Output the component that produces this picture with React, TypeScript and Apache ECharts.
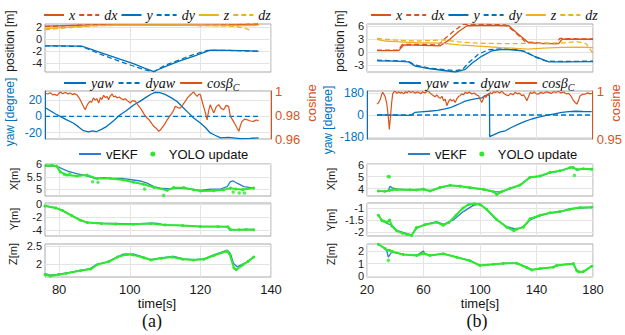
import React, { useEffect, useRef } from 'react';
import * as echarts from 'echarts';

type P = [number, number];

// ---------- panel (a) ----------
const A_X: P[] = [[76,2.15],[84,2.25],[92,2.35],[104,2.35],[112,2.3],[120,2.3],[128,2.35],[136.5,2.45]];
const A_DX: P[] = [[76,2.05],[85,2.3],[95,2.4],[110,2.35],[120,2.25],[130,2.4],[136.5,2.5]];
const A_Y: P[] = [[76,-1.13],[80,-1.15],[86.4,-1.2],[92,-2.3],[97,-3.3],[101,-4.1],[104,-4.8],[106.8,-5.42],[110,-4.6],[114,-3.7],[118,-2.9],[122.8,-1.86],[128,-1.9],[132,-1.95],[136.5,-2.03]];
const A_DY: P[] = [[76,-1.13],[86.4,-1.25],[92,-2.6],[97,-3.7],[101,-4.5],[104,-5.1],[106.8,-5.45],[110,-4.4],[114,-3.5],[118,-2.6],[122,-1.9],[128,-1.9],[136.5,-2.05]];
const A_Z: P[] = [[76,1.75],[82,1.95],[88,2.2],[95,2.3],[110,2.3],[125,2.25],[132,2.25],[136.5,2.3]];
const A_DZ: P[] = [[76,1.55],[82,1.85],[90,2.2],[100,2.3],[115,2.3],[126,2.2],[130,2.1],[132.5,1.8],[134.5,1.4]];

const A_YAW: P[] = [[76,11],[77.5,7],[79,3],[80.3,0],[82,-4],[84,-8.2],[85.5,-13],[86.9,-17.7],[88.3,-19.3],[89.5,-18],[90.5,-19],[92,-16],[93.5,-12.3],[95.5,-5],[97.3,2],[99,7],[101.1,14.2],[103,19],[104.9,24.5],[106,27.5],[107.2,29.8],[108.5,29.5],[110,27.4],[111.8,23],[113.4,18.4],[115.3,10.2],[116.5,5],[118.1,-2],[120,-8.2],[121.5,-14],[122.8,-20.5],[124,-23],[125.7,-26.6],[128,-26],[131.3,-27.5],[134,-27.2],[136.5,-26.6]];
const A_DYAW: P[] = [[76,0],[136.5,0]];
const A_COS: P[] = [[76,0.9983],[76.8,0.9975],[77.5,0.9985],[78.2,0.9968],[78.7,0.9972],[79.4,0.9962],[80.3,0.9992],[81,0.9978],[81.8,0.9988],[82.5,0.9975],[83.1,0.9983],[83.8,0.997],[84.4,0.9978],[85,0.9969],[85.6,0.9945],[86,0.9925],[86.4,0.99],[86.9,0.987],[87.4,0.9844],[87.8,0.9875],[88.3,0.99],[88.8,0.9915],[89.2,0.9905],[89.7,0.9942],[90.2,0.9925],[90.7,0.9935],[91.2,0.99],[91.7,0.9945],[92.1,0.993],[92.6,0.9964],[93.1,0.9945],[93.6,0.9955],[94,0.9928],[94.5,0.996],[95,0.9975],[95.5,0.995],[96,0.9958],[96.4,0.9942],[97,0.995],[97.6,0.9935],[98.2,0.9928],[98.8,0.9935],[99.4,0.9918],[100.1,0.99],[100.8,0.992],[101.6,0.9914],[102.3,0.9885],[103,0.9858],[103.6,0.983],[104.2,0.98],[104.9,0.9775],[105.5,0.976],[106.2,0.973],[106.8,0.9706],[107.5,0.969],[108.2,0.9664],[108.6,0.9672],[109.1,0.9692],[109.8,0.972],[110.6,0.976],[111.3,0.979],[112,0.9817],[112.5,0.9845],[112.9,0.9872],[113.6,0.9862],[114.3,0.9858],[115,0.9885],[115.7,0.9914],[116.4,0.9945],[117.2,0.9969],[117.7,0.9982],[118.1,0.9992],[118.6,0.997],[119.1,0.9956],[119.6,0.9975],[120,0.9969],[120.4,0.9925],[120.9,0.9872],[121.4,0.982],[121.9,0.976],[122.3,0.983],[122.8,0.9886],[123.3,0.985],[123.8,0.9817],[124.5,0.987],[125.2,0.9886],[125.9,0.9855],[126.6,0.9844],[127.3,0.988],[128,0.9872],[128.5,0.9789],[129.2,0.9755],[129.9,0.9719],[130.4,0.969],[130.9,0.9664],[131.3,0.971],[131.8,0.9747],[132.5,0.9765],[133.3,0.976],[134.2,0.975],[135.1,0.9747],[135.8,0.9758],[136.5,0.9753]];

const A_XE: P[] = [[76,5.93],[79.3,5.93],[80.8,5.83],[82.6,5.72],[85,5.63],[86.9,5.57],[88.8,5.5],[90.2,5.43],[92.6,5.47],[95.4,5.43],[98.2,5.43],[101.1,5.37],[103,5.33],[104.9,5.24],[106.8,5.1],[108.7,5.04],[111.5,5.01],[114.3,5.04],[117.2,5.0],[120,4.95],[122.8,5.0],[125.7,5.0],[127.6,5.1],[128.5,5.3],[129.3,5.33],[130.4,5.24],[132.3,5.1],[135.1,5.04]];
const A_XY: P[] = [[76.3,5.96],[78,5.97],[79.3,5.93],[80.3,5.7],[82.2,5.57],[85,5.53],[87.9,5.57],[90.7,5.43],[94.5,5.43],[98.2,5.37],[101.1,5.28],[103.9,5.2],[106.8,5.07],[110.6,4.95],[112.4,5.06],[115.3,5.06],[118.1,4.97],[120,4.92],[123.8,4.93],[126.6,4.97],[128.5,5.04],[130,5.0],[132,4.98],[135.1,5.04]];
const A_XO: P[] = [[81.5,5.6],[83,5.62],[89.5,5.3],[91,5.28],[104.2,5.0],[109.6,4.75],[129.3,4.88],[131,4.84],[132.5,4.84]];
const A_YE: P[] = [[76,-0.26],[79.3,-0.62],[80.3,-0.87],[83.1,-1.66],[86,-2.43],[87.9,-2.8],[91.6,-2.95],[101.1,-3.05],[106.8,-2.95],[108,-2.98],[109.6,-3.2],[115.3,-3.3],[120,-3.47],[127.6,-3.47],[128.3,-3.95],[131,-3.92],[135.1,-3.9]];
const A_YY: P[] = [[76,-0.3],[79,-0.6],[81,-1.0],[83.5,-1.75],[86,-2.5],[88,-2.85],[92,-3.0],[96,-3.05],[101,-3.1],[106,-3.0],[110,-3.2],[115,-3.3],[120,-3.45],[125,-3.45],[127.8,-3.5],[128.5,-3.9],[131,-3.95],[133,-3.9],[135.1,-3.95]];
const A_ZE: P[] = [[76,1.74],[77.4,1.7],[79.3,1.72],[82.2,1.76],[86,1.83],[88.8,1.88],[90.7,2.0],[93.5,2.06],[96.4,2.2],[98.2,2.28],[101.1,2.28],[103.9,2.2],[105.8,2.13],[108.7,2.18],[112.4,2.22],[115.3,2.15],[118.1,2.13],[121,2.15],[123.8,2.26],[127.6,2.39],[128.5,2.3],[129.4,2.02],[130.4,1.93],[133.2,2.06],[135.1,2.2]];
const A_ZY: P[] = [[76,1.72],[77.5,1.68],[80,1.72],[82,1.75],[86,1.82],[89,1.87],[91,2.0],[94,2.07],[96.5,2.2],[99,2.27],[101,2.26],[104,2.18],[106,2.12],[109,2.17],[112,2.2],[115,2.14],[118,2.12],[121,2.14],[124,2.25],[127.5,2.36],[128.3,2.28],[129.5,1.9],[130.2,1.85],[132,1.98],[133.5,2.08],[135.1,2.2]];

// ---------- panel (b) ----------
const B_X: P[] = [[27.1,0.4],[42.4,0.4],[44,1.0],[46,1.7],[60,1.6],[71.9,1.5],[77.9,2.8],[84.9,4.8],[90.8,6.1],[105,6.2],[120.3,6.1],[127,4.2],[134.4,2.2],[145,2.0],[155.7,2.0],[158.1,3.0],[170,3.0],[180,3.0]];
const B_DX: P[] = [[27.1,0.5],[42,0.5],[45,1.8],[60,1.8],[70.5,1.7],[76,3.4],[82,5.0],[88,6.4],[105,6.4],[118,6.3],[125,4.6],[132,2.4],[145,2.1],[154,2.0],[156.5,3.2],[170,3.1],[180,3.1]];
const B_Y: P[] = [[27.1,-1.94],[40,-2.0],[49.5,-2.17],[54.2,-3.16],[63.7,-3.7],[73.1,-4.1],[82.5,-4.5],[89.6,-3.9],[94.3,-2.5],[101.4,-0.85],[108.5,0.37],[115.6,0.7],[122,0.6],[129.7,0.37],[139.2,-1.0],[148.7,-2.17],[160,-2.2],[180,-2.1]];
const B_DY: P[] = [[27.1,-1.8],[49,-2.0],[54,-2.9],[63.7,-3.6],[73.1,-3.9],[82.5,-4.2],[88,-3.8],[92.5,-2.2],[99,-0.4],[106,0.6],[115.6,0.8],[125,0.7],[132,0.2],[140,-1.2],[147,-2.0],[160,-2.1],[180,-2.0]];
const B_Z: P[] = [[27.1,3.0],[33,2.6],[40,2.45],[55,2.2],[73,2.1],[85,1.7],[99,1.45],[115,1.1],[134,0.75],[145,0.95],[158,1.15],[170,1.2],[180,1.1]];
const B_DZ: P[] = [[27.1,3.2],[40,2.8],[55,2.6],[63.7,2.7],[74.3,2.85],[85,2.4],[97.9,2.1],[120,2.0],[144.6,2.08],[160,2.2],[168.7,2.45],[175,2.0],[180,-0.2]];

const B_YAW: P[] = [[27.1,0],[40,-1],[49.5,-3],[52,5],[54.2,22],[58,26],[63.7,31],[70,38],[75.4,50],[79,60],[82.5,78],[86,95],[89.6,114],[93,125],[96.7,133],[101.4,141],[104,160],[106.8,176],[107,-179],[110.9,-158],[114,-142],[118,-130],[122,-105],[127.4,-75],[132,-52],[136.8,-33],[141,-20],[146.3,-5],[152,8],[158.1,22],[163,28],[167.5,31],[173,29],[179.3,28]];
const B_DYAW: P[] = [[27.1,0],[180,0]];
const B_COS: P[] = [[27.1,0.9863],[28.3,0.988],[29.5,0.9916],[30.3,0.996],[31.1,0.9986],[32,0.9965],[33,0.9934],[34,0.987],[34.9,0.9758],[35.4,0.968],[35.8,0.96],[36.3,0.968],[36.8,0.9758],[37.5,0.988],[38.2,0.9968],[39,0.999],[40,0.9997],[41.2,0.9975],[42.4,0.999],[43.6,0.9978],[44.8,0.9986],[46,0.997],[47.3,0.9992],[48.5,0.998],[49.5,1.0],[51,0.9985],[52.5,0.9995],[54,0.9978],[55.5,0.999],[56.6,0.9986],[58,0.9972],[59.5,0.9992],[61,0.998],[62.5,0.9995],[63.7,0.9997],[65,0.9975],[66.2,0.996],[67.2,0.9951],[68.3,0.994],[69.5,0.996],[70.8,0.9934],[72,0.9925],[73.2,0.9945],[74.3,0.9899],[75.5,0.9915],[76.6,0.9847],[77.8,0.989],[79,0.9916],[80.2,0.9895],[81.3,0.991],[82.5,0.9881],[83.7,0.992],[85,0.9945],[86,0.9951],[87.2,0.997],[88.4,0.996],[89.6,0.9986],[91,0.9975],[92.5,0.999],[94.3,0.9968],[95.8,0.998],[97.5,0.996],[99.1,0.9951],[100.2,0.9915],[101.4,0.9881],[102.5,0.992],[103.4,0.9955],[104.3,0.9934],[105.5,0.9965],[106.5,0.995],[107.3,0.9986],[108.5,0.997],[109.7,0.999],[110.9,0.9986],[112.5,0.9995],[114,0.998],[115.6,0.9997],[117,0.9975],[118.6,0.996],[120.3,0.9951],[121.8,0.9975],[123.5,0.996],[125,0.9986],[126.5,0.997],[128,0.9978],[129.7,0.9951],[131,0.996],[132.3,0.993],[133.3,0.9899],[134.5,0.994],[135.7,0.9986],[137,0.9975],[138.5,0.999],[140,0.997],[141.6,0.9968],[143,0.9985],[145,0.9975],[146.8,0.999],[148.7,0.9986],[150.5,0.9975],[152.3,0.9992],[154,0.9985],[155.8,0.9997],[157.5,0.998],[159.5,0.999],[161.2,0.997],[162.9,0.9975],[164.5,0.995],[165.6,0.992],[166.4,0.9899],[167.6,0.988],[168.8,0.9863],[169.9,0.99],[171.1,0.9951],[172.8,0.9965],[174.7,0.9968],[176.5,0.998],[178,0.997],[179.4,0.9975]];

const B_XE: P[] = [[28,3.78],[32.7,3.75],[35,3.8],[36.3,4.2],[38,4.05],[41,3.95],[50.4,3.88],[55,3.9],[59.9,3.95],[64.6,3.78],[71.7,4.05],[78.8,4.26],[85.8,4.2],[92.9,4.05],[102.3,3.92],[109.4,3.73],[115.4,3.73],[121.2,4.0],[128.3,4.26],[135.4,4.93],[142.5,5.01],[149.6,5.33],[156.6,5.46],[163.7,5.73],[166,5.8],[168.5,5.54],[173.2,5.62],[179.1,5.62]];
const B_XY: P[] = [[28,3.8],[32.7,3.78],[36,3.85],[38,3.9],[41,3.93],[50.4,3.9],[55,3.88],[59.9,3.95],[64.6,3.8],[71.7,4.1],[78.8,4.28],[85.8,4.2],[92.9,4.08],[102.3,3.95],[109.4,3.75],[111.8,3.5],[115.4,3.75],[121.2,4.02],[128.3,4.3],[135.4,4.95],[142.5,5.05],[149.6,5.35],[156.6,5.48],[163.7,5.75],[166,5.75],[168.5,5.6],[173.2,5.65],[179.1,5.62]];
const B_XO: P[] = [[35,5.0],[35.8,4.98],[166.8,5.1]];
const B_YE: P[] = [[28,-1.26],[30.4,-1.5],[33.9,-1.64],[37.5,-1.71],[41,-1.93],[48.1,-2.07],[51.6,-2.12],[55.2,-1.85],[61.1,-1.68],[69.4,-1.57],[74.1,-1.68],[81.1,-1.5],[88.2,-1.15],[95.3,-0.89],[100,-0.83],[104.7,-1.07],[111.8,-1.5],[118.9,-1.78],[126,-1.89],[130.7,-1.78],[135.4,-1.5],[142.5,-1.32],[149.6,-1.21],[156.6,-1.17],[163.7,-1.03],[170.8,-1.0],[179.1,-0.97]];
const B_YY: P[] = [[28,-1.3],[30.5,-1.52],[32,-1.55],[34,-1.6],[36,-1.5],[37.5,-1.75],[41,-1.95],[45,-2.05],[48,-2.1],[51.6,-2.15],[55,-1.82],[61,-1.7],[69.4,-1.6],[74,-1.72],[78,-1.6],[83,-1.3],[88,-1.0],[92,-0.85],[96,-0.82],[100,-0.85],[104.7,-1.05],[111.8,-1.48],[118.9,-1.8],[124,-1.95],[126,-1.88],[130.7,-1.8],[135.4,-1.45],[142.5,-1.3],[149.6,-1.2],[156.6,-1.15],[163.7,-1.05],[170.8,-0.98],[179.1,-0.97]];
const B_ZE: P[] = [[28,2.53],[32.7,2.18],[34,2.0],[35.1,1.52],[37.5,1.92],[45.7,1.74],[55.2,1.66],[59.9,2.0],[61,1.8],[64.6,1.66],[74,1.79],[83.5,1.52],[92.9,1.26],[100,0.87],[109.4,0.95],[116.5,1.03],[126,1.05],[133,0.73],[136.6,0.53],[142.5,0.6],[151.9,0.73],[154.2,0.87],[166.1,1.03],[168.5,0.42],[173.2,0.34],[179.1,0.79]];
const B_ZY: P[] = [[28,2.53],[32.7,2.2],[34.5,2.05],[36,2.05],[38,1.95],[45.7,1.72],[55.2,1.65],[59.9,1.8],[64.6,1.65],[74,1.78],[83.5,1.5],[92.9,1.22],[100,0.85],[109.4,0.95],[116.5,1.02],[126,1.03],[133,0.7],[136.6,0.5],[142.5,0.62],[151.9,0.72],[154.2,0.85],[166.1,1.0],[168.5,0.45],[170,0.35],[173.2,0.38],[179.1,0.8]];
const B_ZO: P[] = [[35.1,1.26]];

// ---------- axes ----------
const A_XRANGE = [76, 140];
const B_XRANGE = [20, 180];
const A_XTICKS = [80, 100, 120, 140];
const B_XTICKS = [20, 60, 100, 140, 180];
const A_YRANGES = [[-5.5, 2.5], [-28, 31.5], [4.72, 6.02], [-4.9, 0.15], [1.65, 2.56]];
const B_YRANGES = [[-4.5, 6.5], [-198, 198], [3.38, 6.05], [-2.17, -0.79], [-0.05, 2.55]];
const A_YTICKS = [[-4, -2, 0, 2], [-20, 0, 20], [5, 5.5, 6], [-4, -2, 0], [2, 2.5]];
const B_YTICKS = [[-3, 0, 3, 6], [-180, 0, 180], [4, 5, 6], [-2, -1.5, -1], [0, 1, 2]];
const A_COS_RANGE = [0.96, 1];
const B_COS_RANGE = [0.95, 1];
const A_COS_TICKS = [0.96, 0.98, 1];
const B_COS_TICKS = [0.95, 1];

const BLUE = '#0072BD';
const ORANGE = '#D95319';
const YELLOW = '#EDB120';
const GREEN = '#2ee82e';
const EKF = '#2a7fcf';
const SANS = '"Liberation Sans", Arial, sans-serif';
const SERIF = '"Liberation Serif", "Times New Roman", serif';

const ROW_TOP = [24, 91, 164, 203, 244];
const ROW_H = [48, 48, 32, 33, 33];
const PANEL_LEFT = [45, 367];
const PANEL_W = 226;

const DOT_ICON = 'path://M0,0M22,14M8.5,7A2.5,2.5,0,1,0,13.5,7A2.5,2.5,0,1,0,8.5,7Z';

function buildOption() {
  const grid: any[] = [];
  const xAxis: any[] = [];
  const yAxis: any[] = [];
  const series: any[] = [];

  for (let p = 0; p < 2; p++) {
    for (let r = 0; r < 5; r++) {
      grid.push({
        left: PANEL_LEFT[p], top: ROW_TOP[r], width: PANEL_W, height: ROW_H[r],
        show: true, borderColor: '#a8a8a8', borderWidth: 1, backgroundColor: 'transparent',
        containLabel: false,
      });
      const xr = p === 0 ? A_XRANGE : B_XRANGE;
      const xt = p === 0 ? A_XTICKS : B_XTICKS;
      xAxis.push({
        type: 'value', gridIndex: p * 5 + r, min: xr[0], max: xr[1],
        axisLine: { show: false }, axisTick: { show: false, customValues: xt },
        axisLabel: {
          show: r === 4, customValues: xt, margin: 6, fontSize: 13, color: '#1a1a1a', fontFamily: SANS,
          showMinLabel: true, showMaxLabel: true, hideOverlap: false, interval: 0,
        },
        splitLine: { show: true, lineStyle: { color: '#e4e4e4', width: 1 } },
      });
      const yr = p === 0 ? A_YRANGES[r] : B_YRANGES[r];
      const yt = p === 0 ? A_YTICKS[r] : B_YTICKS[r];
      const isYaw = r === 1;
      yAxis.push({
        type: 'value', gridIndex: p * 5 + r, min: yr[0], max: yr[1], position: 'left',
        axisLine: { show: isYaw, lineStyle: { color: BLUE } },
        axisTick: { show: false, customValues: yt },
        axisLabel: {
          customValues: yt, margin: 3, fontSize: isYaw ? 12 : 11, lineHeight: 11, color: isYaw ? BLUE : '#1a1a1a', fontFamily: SANS,
          hideOverlap: false, interval: 0, showMinLabel: true, showMaxLabel: true,
        },
        splitLine: { show: true, lineStyle: { color: '#e4e4e4', width: 1 } },
      });
    }
  }
  // right cosine axes (indices 10 and 11)
  [0, 1].forEach((p) => {
    const cr = p === 0 ? A_COS_RANGE : B_COS_RANGE;
    const ct = p === 0 ? A_COS_TICKS : B_COS_TICKS;
    yAxis.push({
      type: 'value', gridIndex: p * 5 + 1, min: cr[0], max: cr[1], position: 'right',
      axisLine: { show: true, lineStyle: { color: ORANGE } },
      axisTick: { show: false, customValues: ct },
      axisLabel: {
        customValues: ct, margin: 4, fontSize: 13, color: ORANGE, fontFamily: SANS,
        hideOverlap: false, interval: 0, showMinLabel: true, showMaxLabel: true,
      },
      splitLine: { show: false },
    });
  });

  const line = (name: string, data: P[], color: string, gi: number, yi: number, dashed = false, width = 1.3) => ({
    type: 'line', name, data, xAxisIndex: gi, yAxisIndex: yi, symbol: 'none', showSymbol: false,
    lineStyle: { color, width, type: dashed ? [5, 3] : 'solid' }, itemStyle: { color }, silent: true,
  });
  const yolo = (data: P[], gi: number) => ({
    type: 'line', name: 'YOLO update', data, xAxisIndex: gi, yAxisIndex: gi,
    symbol: 'circle', symbolSize: 3, showSymbol: true,
    lineStyle: { color: GREEN, width: 2 }, itemStyle: { color: GREEN }, silent: true, z: 3,
  });
  const yoloOut = (data: P[], gi: number) => ({
    type: 'scatter', name: 'YOLO update', data, xAxisIndex: gi, yAxisIndex: gi,
    symbol: 'circle', symbolSize: 3.5, itemStyle: { color: GREEN }, silent: true, z: 3,
  });

  const pos = [
    [A_X, A_DX, A_Y, A_DY, A_Z, A_DZ],
    [B_X, B_DX, B_Y, B_DY, B_Z, B_DZ],
  ];
  const yawSets = [[A_YAW, A_DYAW, A_COS], [B_YAW, B_DYAW, B_COS]];
  const est = [[A_XE, A_YE, A_ZE], [B_XE, B_YE, B_ZE]];
  const obs = [[A_XY, A_YY, A_ZY], [B_XY, B_YY, B_ZY]];
  const outl = [[A_XO, [], []], [B_XO, [], B_ZO]];

  for (let p = 0; p < 2; p++) {
    const g0 = p * 5;
    const [x, dx, y, dy, z, dz] = pos[p];
    series.push(line('x', x, ORANGE, g0, g0));
    series.push(line('dx', dx, ORANGE, g0, g0, true));
    series.push(line('y', y, BLUE, g0, g0));
    series.push(line('dy', dy, BLUE, g0, g0, true));
    series.push(line('z', z, YELLOW, g0, g0));
    series.push(line('dz', dz, YELLOW, g0, g0, true));
    const [yaw, dyaw, cos] = yawSets[p];
    series.push(line('yaw', yaw, BLUE, g0 + 1, g0 + 1));
    series.push(line('dyaw', dyaw, BLUE, g0 + 1, g0 + 1, true));
    series.push(line('cosβ_C', cos, ORANGE, g0 + 1, 10 + p, false, 1.2));
    for (let k = 0; k < 3; k++) {
      const gi = g0 + 2 + k;
      series.push(line('vEKF', est[p][k] as P[], EKF, gi, gi, false, 1.3));
      series.push(yolo(obs[p][k] as P[], gi));
      if ((outl[p][k] as P[]).length) series.push(yoloOut(outl[p][k] as P[], gi));
    }
  }

  const legItalic = { fontFamily: SERIF, fontStyle: 'italic', fontSize: 14, color: '#111' };
  const hidden = { opacity: 0 };
  const legend: any[] = [];
  [43, 370].forEach((l) => legend.push({
    left: l, top: 8, itemWidth: 20, itemHeight: 12, itemGap: 3, padding: 0,
    data: ['x', 'dx', 'y', 'dy', 'z', 'dz'], textStyle: legItalic, selectedMode: false,
    itemStyle: hidden,
  }));
  [63, 398].forEach((l) => legend.push({
    left: l, top: 76, itemWidth: 22, itemHeight: 12, itemGap: 4, padding: 0, selectedMode: false,
    data: ['yaw', 'dyaw', 'cosβ_C'], itemStyle: hidden,
    formatter: (n: string) => (n === 'cosβ_C' ? '{a|cosβ}{b|C}' : n),
    textStyle: {
      ...legItalic,
      rich: {
        a: { fontFamily: SERIF, fontStyle: 'italic', fontSize: 14, color: '#111' },
        b: { fontFamily: SERIF, fontStyle: 'italic', fontSize: 10, color: '#111', padding: [9, 0, 0, 0] },
      },
    },
  }));
  [78, 407].forEach((l) => legend.push({
    left: l, top: 147, itemWidth: 22, itemHeight: 14, itemGap: 4, padding: 0, selectedMode: false,
    data: [{ name: 'vEKF', itemStyle: hidden }, { name: 'YOLO update', icon: DOT_ICON }],
    textStyle: { fontFamily: SANS, fontSize: 13, color: '#111' },
  }));

  const vtext = (text: string, x: number, y: number, color: string, size: number) => ({
    type: 'text', x, y, rotation: Math.PI / 2, silent: true,
    style: { text, fill: color, fontSize: size, fontFamily: SANS, align: 'center', verticalAlign: 'middle' },
  });
  const htext = (text: string, x: number, y: number, size: number, family: string) => ({
    type: 'text', x, y, silent: true,
    style: { text, fill: '#111', fontSize: size, fontFamily: family, align: 'center', verticalAlign: 'middle' },
  });
  const graphic = [
    vtext('position [m]', 10, 41, '#1a1a1a', 12),
    vtext('yaw [degree]', 10, 112, BLUE, 12),
    vtext('cosine', 311, 103, ORANGE, 13),
    vtext('X[m]', 14, 179, '#1a1a1a', 11),
    vtext('Y[m]', 14, 219, '#1a1a1a', 11),
    vtext('Z[m]', 13, 254, '#1a1a1a', 11),
    vtext('position [m]', 340, 41, '#1a1a1a', 12),
    vtext('yaw [degree]', 328, 120, BLUE, 12),
    vtext('cosine', 615, 103, ORANGE, 13),
    vtext('X[m]', 331, 179, '#1a1a1a', 11),
    vtext('Y[m]', 331, 220, '#1a1a1a', 11),
    vtext('Z[m]', 331, 254, '#1a1a1a', 11),
    htext('time[s]', 157, 303, 13, SANS),
    htext('time[s]', 480, 303, 13, SANS),
    htext('(a)', 152, 321, 18, SERIF),
    htext('(b)', 477, 321, 18, SERIF),
  ];

  return {
    animation: false,
    backgroundColor: '#ffffff',
    grid, xAxis, yAxis, series, legend, graphic,
  };
}

export default function App() {
  const ref = useRef<HTMLDivElement>(null);
  useEffect(() => {
    document.body.style.margin = '0';
    if (!ref.current) return;
    const chart = echarts.init(ref.current, undefined, { renderer: 'svg' });
    chart.setOption(buildOption() as any);
    return () => chart.dispose();
  }, []);
  return <div ref={ref} style={{ width: 625, height: 335 }} />;
}
